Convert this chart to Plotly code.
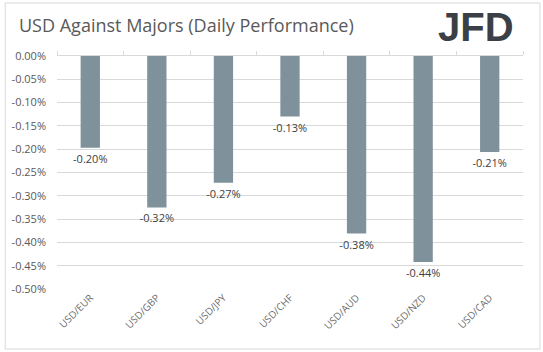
import plotly.graph_objects as go

categories = ["USD/EUR", "USD/GBP", "USD/JPY", "USD/CHF", "USD/AUD", "USD/NZD", "USD/CAD"]
values = [-0.197, -0.325, -0.272, -0.130, -0.381, -0.442, -0.206]
labels = ["-0.20%", "-0.32%", "-0.27%", "-0.13%", "-0.38%", "-0.44%", "-0.21%"]
ytick_vals = [0.0, -0.05, -0.10, -0.15, -0.20, -0.25, -0.30, -0.35, -0.40, -0.45, -0.50]
ytick_text = ["0.00%", "-0.05%", "-0.10%", "-0.15%", "-0.20%", "-0.25%", "-0.30%", "-0.35%", "-0.40%", "-0.45%", "-0.50%"]

W, H = 543, 352
L, R, T, B = 55, 20, 56, 63
pw, ph = W - L - R, H - T - B

fig = go.Figure()
fig.add_trace(go.Bar(
    x=list(range(len(categories))), y=values, text=labels, textposition="outside",
    constraintext="none",
    textfont=dict(size=11, color="#404040", family="Open Sans"),
    marker=dict(color="#7f929c", line=dict(width=0)), width=0.29, cliponaxis=False,
    hoverinfo="skip",
))
# invisible trace on top axis for category tick marks
fig.add_trace(go.Scatter(x=[0], y=[0], xaxis="x2", mode="markers",
                         marker=dict(opacity=0), showlegend=False, hoverinfo="skip"))

fig.update_layout(
    width=W, height=H, margin=dict(l=L, r=R, t=T, b=B),
    paper_bgcolor="white", plot_bgcolor="white", showlegend=False,
    font=dict(family="Open Sans", color="#595959"),
    xaxis=dict(range=[-0.5, len(categories) - 0.5], tickvals=list(range(len(categories))),
               ticktext=categories, tickangle=-45, showgrid=False, zeroline=False,
               showline=False, ticks="", tickfont=dict(size=10, color="#6b6b6b")),
    xaxis2=dict(range=[-0.5, len(categories) - 0.5], overlaying="x", side="top", anchor="y",
                tickvals=[i + 0.5 for i in range(-1, len(categories))], ticks="outside",
                ticklen=4, tickcolor="#d9d9d9", showticklabels=False, showgrid=False,
                showline=True, linecolor="#d9d9d9", zeroline=False),
    yaxis=dict(range=[-0.5, 0.0], tickvals=ytick_vals, ticktext=ytick_text,
               showgrid=True, gridcolor="#d9d9d9", gridwidth=1, zeroline=False,
               showline=False, ticks="", ticklabelstandoff=10,
               tickfont=dict(size=11, color="#595959")),
    bargap=0.71,
)

# outer border
fig.add_shape(type="rect", xref="paper", yref="paper",
              x0=(3 - L) / pw, x1=(540 - L) / pw,
              y0=(H - B - 349) / ph, y1=(H - B - 3) / ph,
              line=dict(color="#d9d9d9", width=1), fillcolor="rgba(0,0,0,0)", layer="below")

fig.add_annotation(text="USD Against Majors (Daily Performance)", xref="paper", yref="paper",
                   x=(15 - L) / pw, y=(H - B - 25) / ph, xanchor="left", yanchor="middle",
                   showarrow=False, font=dict(size=18, color="#595959", family="Open Sans"))
fig.add_annotation(text="<b>JFD</b>", xref="paper", yref="paper",
                   x=(476 - L) / pw, y=(H - B - 27) / ph, xanchor="center", yanchor="middle",
                   showarrow=False,
                   font=dict(size=40, color="#3b4047", family="Liberation Sans"))

fig.write_html("out.html")
